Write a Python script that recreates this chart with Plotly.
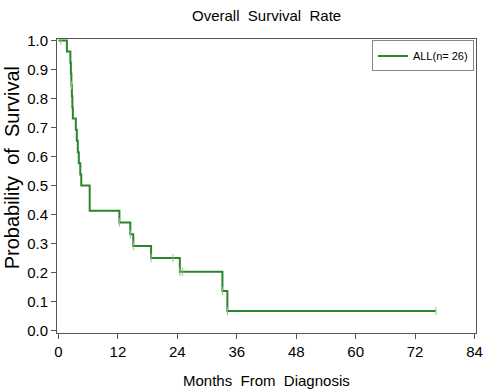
import plotly.graph_objects as go

# Kaplan-Meier step data (months, survival probability)
times = [0, 1.7, 2.4, 2.5, 2.6, 2.7, 2.8, 2.9, 3.5, 3.7, 3.9, 4.1, 4.4, 4.6,
         6.3, 12.3, 14.5, 15.1, 18.7, 24.5, 33.1, 34.1, 76.2]
surv = [1.0, 0.962, 0.923, 0.885, 0.846, 0.808, 0.769, 0.731, 0.692, 0.654,
        0.615, 0.577, 0.538, 0.500, 0.413, 0.373, 0.332, 0.292, 0.250, 0.203,
        0.137, 0.068, 0.068]

# censor marks
cens_t = [0.5, 2.6, 12.3, 14.5, 15.1, 18.7, 23.1, 24.5, 25.0, 33.1, 34.1, 76.2]
cens_s = [1.0, 0.846, 0.373, 0.332, 0.292, 0.250, 0.250, 0.203, 0.203, 0.137, 0.068, 0.068]

x_ticks = [0, 12, 24, 36, 48, 60, 72, 84]
y_ticks = [0.0, 0.1, 0.2, 0.3, 0.4, 0.5, 0.6, 0.7, 0.8, 0.9, 1.0]

green = "#2b852b"
font = "Liberation Sans, Arial, sans-serif"
NB = "\u00a0"

fig = go.Figure()
fig.add_trace(go.Scatter(
    x=times, y=surv, mode="lines", line=dict(color=green, width=2, shape="hv"),
    name="ALL(n=" + NB + "26)", showlegend=True,
))
fig.add_trace(go.Scatter(
    x=cens_t, y=cens_s, mode="markers",
    marker=dict(symbol="line-ns", size=6, line=dict(color="#8fbf8f", width=1)),
    showlegend=False, hoverinfo="skip",
))

fig.update_layout(
    width=485, height=390,
    margin=dict(l=57, r=9, t=39, b=57, autoexpand=False),
    paper_bgcolor="white", plot_bgcolor="white",
    font=dict(family=font, color="black"),
    showlegend=True,
    legend=dict(x=0.995, y=0.995, xanchor="right", yanchor="top",
                bordercolor="#888888", borderwidth=1, bgcolor="white",
                font=dict(size=11, family=font),
                itemwidth=30, tracegroupgap=0),
    xaxis=dict(range=[-0.3, 84.3], tickvals=x_ticks, ticks="outside",
               ticklen=5, tickcolor="#555555", showgrid=False, zeroline=False,
               showline=True, linecolor="#555555", linewidth=1, mirror=True,
               tickfont=dict(size=15, family=font), automargin=False),
    yaxis=dict(range=[-0.008, 1.005], tickvals=y_ticks, ticktext=[f"{v:.1f}" for v in y_ticks],
               ticks="outside", ticklen=5, tickcolor="#555555", showgrid=False,
               zeroline=False, showline=True, linecolor="#555555", linewidth=1,
               mirror=True, tickfont=dict(size=15, family=font), automargin=False),
    annotations=[
        dict(text="Overall" + NB + " Survival" + NB + " Rate", xref="paper", yref="paper",
             x=0.5, y=1, yshift=24, xanchor="center", yanchor="middle", showarrow=False,
             font=dict(size=15, family=font)),
        dict(text="Months" + NB + " From" + NB + " Diagnosis", xref="paper", yref="paper",
             x=0.5, y=0, yshift=-47, xanchor="center", yanchor="middle", showarrow=False,
             font=dict(size=15, family=font)),
        dict(text="Probability" + NB + " of" + NB + " Survival", xref="paper", yref="paper",
             x=0, y=0.56, xshift=-45, xanchor="center", yanchor="middle", showarrow=False,
             textangle=-90, font=dict(size=20, family=font)),
    ],
)

fig.write_html("out.html", config={"displayModeBar": False},
               post_script="document.body.style.margin='0';document.body.style.overflow='hidden';")
